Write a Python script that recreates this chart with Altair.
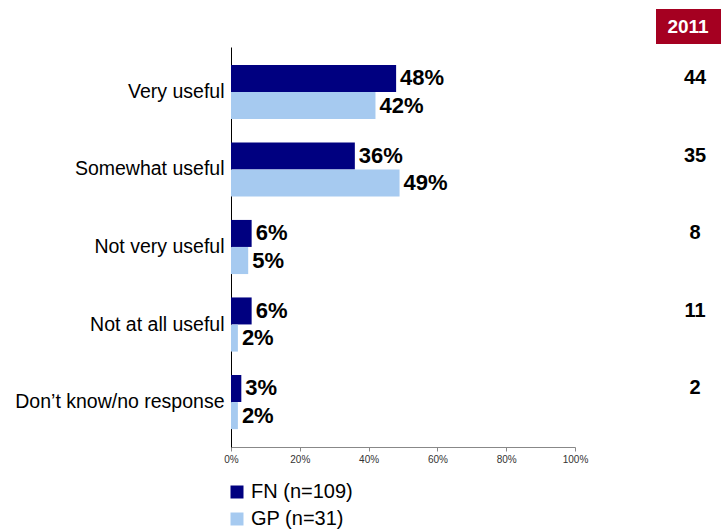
import altair as alt
import pandas as pd

categories = ["Very useful", "Somewhat useful", "Not very useful", "Not at all useful", "Don’t know/no response"]
fn_values = [48, 36, 6, 6, 3]
gp_values = [42, 49, 5, 2, 2]
values_2011 = [44, 35, 8, 11, 2]
series_names = ["FN (n=109)", "GP (n=31)"]
series_colors = ["#000080", "#A6CAF0"]
tick_values = [0, 20, 40, 60, 80, 100]

rows = []
for c, f, g in zip(categories, fn_values, gp_values):
    rows.append({"cat": c, "series": series_names[0], "value": f, "label": f"{f}%"})
    rows.append({"cat": c, "series": series_names[1], "value": g, "label": f"{g}%"})
df = pd.DataFrame(rows)
df2011 = pd.DataFrame({"cat": categories, "series": series_names[0], "v": [str(v) for v in values_2011]})
dfhead = pd.DataFrame({"t": ["2011"]})

W, H = 344, 400

yenc = alt.Y("cat:N", sort=categories,
             scale=alt.Scale(paddingInner=0.3, paddingOuter=0.23),
             axis=alt.Axis(title=None, ticks=False, domainColor="#000000", domainWidth=1,
                           labelFontSize=19.5, labelColor="#000000", labelPadding=7,
                           labelFont="Liberation Sans", labelLimit=300))
yoff = alt.YOffset("series:N", sort=series_names)

bars = alt.Chart(df).mark_bar(size=27).encode(
    x=alt.X("value:Q", scale=alt.Scale(domain=[0, 100]),
            axis=alt.Axis(title=None, values=tick_values, labelExpr="datum.value + '%'",
                          grid=False, labelFontSize=10, labelColor="#333333",
                          labelFont="Liberation Sans", domainColor="#888888",
                          tickColor="#888888", tickSize=4, labelPadding=3,
                          labelFlush=False, labelOverlap=False)),
    y=yenc,
    yOffset=yoff,
    color=alt.Color("series:N", sort=series_names,
                    scale=alt.Scale(domain=series_names, range=series_colors),
                    legend=alt.Legend(title=None, orient="none", legendX=-4, legendY=435,
                                      symbolType="square", symbolSize=169,
                                      symbolStrokeWidth=0, labelFontSize=20,
                                      labelFont="Liberation Sans", labelColor="#000000",
                                      rowPadding=7, symbolOpacity=1)),
)

labels = alt.Chart(df).mark_text(align="left", baseline="middle", dx=4, fontSize=22,
                                  fontWeight="bold", font="Liberation Sans", color="#000000").encode(
    x="value:Q", y=alt.Y("cat:N", sort=categories), yOffset=yoff, text="label:N")

col2011 = alt.Chart(df2011).mark_text(align="center", baseline="middle", fontSize=20,
                                        fontWeight="bold", font="Liberation Sans", color="#000000").encode(
    x=alt.value(464), y=alt.Y("cat:N", sort=categories), yOffset=yoff, text="v:N")

headbox = alt.Chart(dfhead).mark_rect(color="#A50021").encode(
    x=alt.value(425), x2=alt.value(490), y=alt.value(-38), y2=alt.value(-3))
headtext = alt.Chart(dfhead).mark_text(align="center", baseline="middle", fontSize=19,
                                        fontWeight="bold", font="Liberation Sans", color="#FFFFFF").encode(
    x=alt.value(457), y=alt.value(-20), text="t:N")

chart = alt.layer(bars, labels, col2011, headbox, headtext).properties(
    width=W, height=H,
    background="#FFFFFF",
    autosize=alt.AutoSizeParams(type="none"),
    padding={"left": 231, "top": 47, "right": 149, "bottom": 84},
).configure_view(strokeWidth=0, stroke="transparent")

chart.save("out.html", embed_options={"renderer": "svg", "actions": False})
